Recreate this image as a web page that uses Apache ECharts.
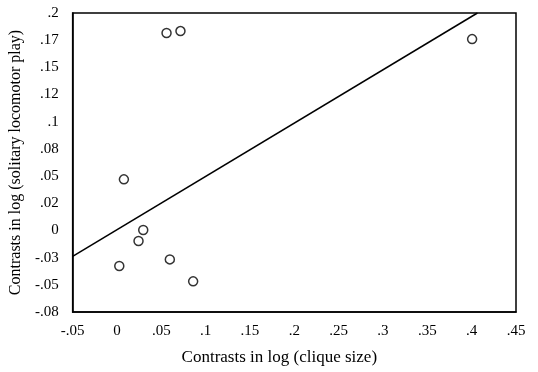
<!DOCTYPE html>
<html><head><meta charset="utf-8">
<script src="https://cdn.jsdelivr.net/npm/echarts@6/dist/echarts.min.js"></script>
<style>html,body{margin:0;padding:0;background:#fff}#c{width:538px;height:372px}</style>
</head><body><div id="c"></div>
<script>
var xValues = [0.0559, 0.0716, 0.4005, 0.0078, 0.0296, 0.0243, 0.0026, 0.0596, 0.0859];
var yValues = [0.1816, 0.1834, 0.1760, 0.0470, 0.0004, -0.0097, -0.0327, -0.0266, -0.0468];
var fitX = [-0.05, 0.4065];
var fitY = [-0.0238, 0.2];
var xTickLabels = ['-.05','0','.05','.1','.15','.2','.25','.3','.35','.4','.45'];
var yTickLabels = ['-.08','-.05','-.03','0','.02','.05','.08','.1','.12','.15','.17','.2'];
var xTitle = 'Contrasts in log (clique size)';
var yTitle = 'Contrasts in log (solitary locomotor play)';

var pts = xValues.map(function(x,i){return [x, yValues[i]];});
var line = fitX.map(function(x,i){return [x, fitY[i]];});
var font = 'Liberation Serif';
var chart = echarts.init(document.getElementById('c'), null, {renderer:'canvas'});
chart.setOption({
  animation:false,
  backgroundColor:'#fff',
  grid:{left:72,right:22,top:13,bottom:60,show:true,borderColor:'#000',borderWidth:1.5},
  xAxis:{type:'value',min:-0.05,max:0.45,interval:0.05,
    name:xTitle,nameLocation:'middle',nameGap:37,
    nameTextStyle:{fontFamily:font,fontSize:17,color:'#000',padding:[0,30,0,0]},
    axisLine:{show:true,onZero:false,lineStyle:{color:'#000',width:1.5}},
    axisTick:{show:false},splitLine:{show:false},
    axisLabel:{fontFamily:font,fontSize:15,color:'#000',margin:12,
      formatter:function(v){return xTickLabels[Math.round((v+0.05)/0.05)];}}},
  yAxis:{type:'value',min:-0.075,max:0.2,interval:0.025,
    name:yTitle,nameLocation:'middle',nameGap:46,
    nameTextStyle:{fontFamily:font,fontSize:16,color:'#000'},
    axisLine:{show:true,onZero:false,lineStyle:{color:'#000',width:1.5}},
    axisTick:{show:false},splitLine:{show:false},
    axisLabel:{fontFamily:font,fontSize:15,color:'#000',margin:14,
      formatter:function(v){return yTickLabels[Math.round((v+0.075)/0.025)];}}},
  series:[
    {type:'line',data:line,symbol:'none',lineStyle:{color:'#000',width:1.5},silent:true},
    {type:'scatter',data:pts,symbol:'circle',symbolSize:9,
      itemStyle:{color:'#fff',borderColor:'#000',borderWidth:1.5}}
  ]
});
</script></body></html>
